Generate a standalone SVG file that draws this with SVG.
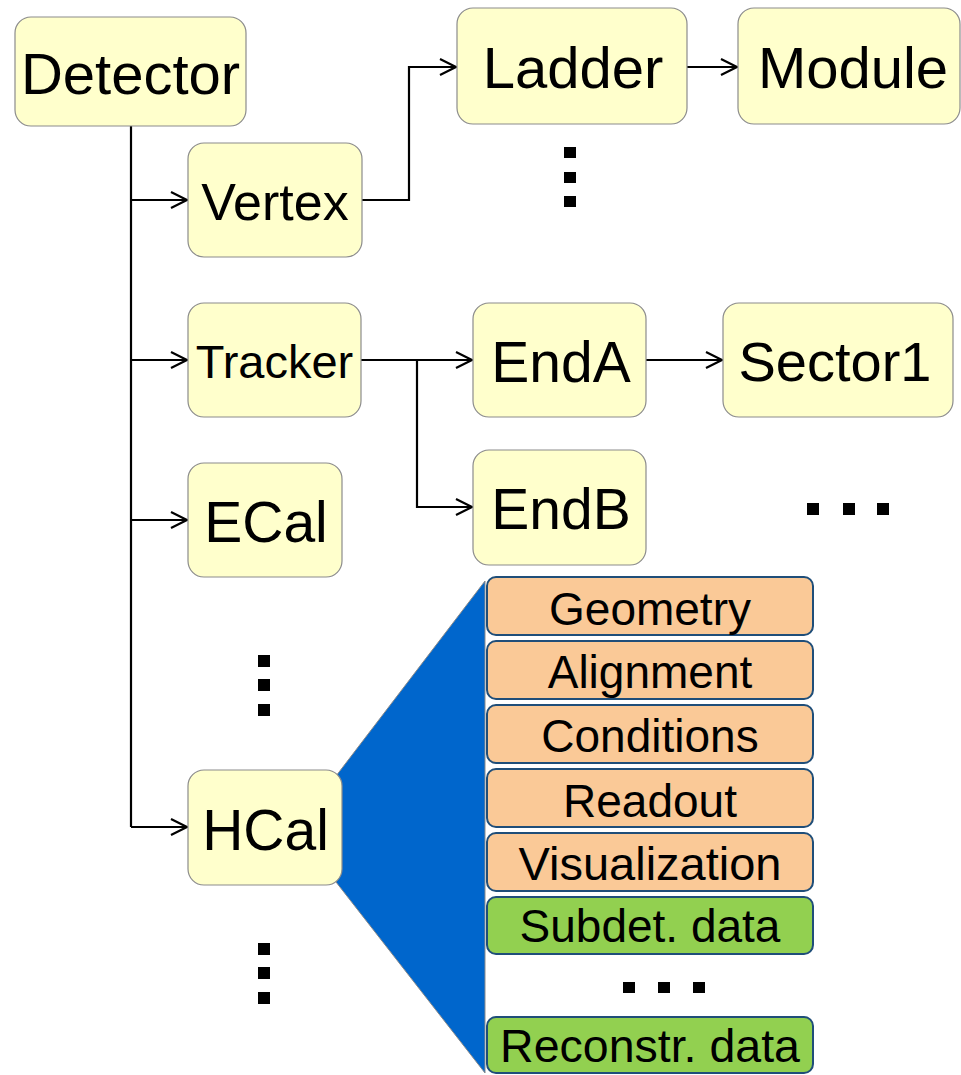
<svg xmlns="http://www.w3.org/2000/svg" width="961" height="1075" viewBox="0 0 961 1075">
<style>
text{font-family:"Liberation Sans",Arial,sans-serif;fill:#000;text-anchor:middle}
.n{fill:#FFFFCC;stroke:#8C8C8C;stroke-width:1.2}
.p{fill:#FAC997;stroke:#1F4E79;stroke-width:2}
.g{fill:#92D050;stroke:#1F4E79;stroke-width:2}
.c{fill:none;stroke:#000;stroke-width:2.2}
.d{fill:#000}
</style>
<defs>
<marker id="ah" markerWidth="20" markerHeight="20" refX="17" refY="9" orient="auto" markerUnits="userSpaceOnUse">
<path d="M1,1 L17,9 L1,17" fill="none" stroke="#000" stroke-width="2.2"/>
</marker>
</defs>
<polygon points="336,776 485,581 485,1073 336,882" fill="#0066CC" stroke="#8A8A8A" stroke-width="1"/>
<g id="connectors">
<path class="c" d="M131,126 V827"/>
<path class="c" d="M131,200 H187" marker-end="url(#ah)"/>
<path class="c" d="M131,360 H187" marker-end="url(#ah)"/>
<path class="c" d="M131,520 H187" marker-end="url(#ah)"/>
<path class="c" d="M131,827 H187" marker-end="url(#ah)"/>
<path class="c" d="M362,200 H409 V67 H456" marker-end="url(#ah)"/>
<path class="c" d="M687,67 H737" marker-end="url(#ah)"/>
<path class="c" d="M361,360 H472" marker-end="url(#ah)"/>
<path class="c" d="M417,360 V507 H472" marker-end="url(#ah)"/>
<path class="c" d="M646,360 H722" marker-end="url(#ah)"/>
</g>
<g id="detector"><rect class="n" x="15" y="17" width="231" height="109" rx="16"/><text x="130.5" y="94" font-size="58">Detector</text></g>
<g id="vertex"><rect class="n" x="188" y="143" width="174" height="114" rx="16"/><text x="275" y="220" font-size="52">Vertex</text></g>
<g id="ladder"><rect class="n" x="457" y="8" width="230" height="116" rx="16"/><text x="573" y="88" font-size="58">Ladder</text></g>
<g id="module"><rect class="n" x="738" y="8" width="222" height="116" rx="16"/><text x="853" y="88" font-size="58">Module</text></g>
<g id="tracker"><rect class="n" x="188" y="303" width="173" height="114" rx="16"/><text x="274.5" y="378" font-size="47">Tracker</text></g>
<g id="enda"><rect class="n" x="473" y="303" width="173" height="114" rx="16"/><text x="561" y="382" font-size="57">EndA</text></g>
<g id="sector1"><rect class="n" x="723" y="303" width="230" height="114" rx="16"/><text x="835" y="381" font-size="56">Sector1</text></g>
<g id="endb"><rect class="n" x="473" y="450" width="173" height="115" rx="16"/><text x="561" y="529" font-size="57">EndB</text></g>
<g id="ecal"><rect class="n" x="188" y="463" width="154" height="114" rx="16"/><text x="266" y="542" font-size="57">ECal</text></g>
<g id="hcal"><rect class="n" x="188" y="770" width="154" height="115" rx="16"/><text x="265.5" y="850" font-size="57">HCal</text></g>
<g id="dots">
<rect class="d" x="564" y="147" width="12" height="11"/><rect class="d" x="564" y="172" width="12" height="11"/><rect class="d" x="564" y="196" width="12" height="11"/>
<rect class="d" x="807" y="503" width="12" height="12"/><rect class="d" x="843" y="503" width="12" height="12"/><rect class="d" x="877" y="503" width="12" height="12"/>
<rect class="d" x="258" y="655" width="12" height="12"/><rect class="d" x="258" y="679" width="12" height="12"/><rect class="d" x="258" y="704" width="12" height="12"/>
<rect class="d" x="258" y="943" width="12" height="12"/><rect class="d" x="258" y="967" width="12" height="12"/><rect class="d" x="258" y="992" width="12" height="12"/>
<rect class="d" x="623" y="982" width="12" height="11"/><rect class="d" x="658" y="982" width="12" height="11"/><rect class="d" x="693" y="982" width="12" height="11"/>
</g>
<g id="geometry"><rect class="p" x="487" y="577" width="326" height="58" rx="9"/><text x="650" y="625" font-size="46">Geometry</text></g>
<g id="alignment"><rect class="p" x="487" y="641" width="326" height="58" rx="9"/><text x="650" y="688" font-size="46">Alignment</text></g>
<g id="conditions"><rect class="p" x="487" y="705" width="326" height="58" rx="9"/><text x="650" y="752" font-size="46">Conditions</text></g>
<g id="readout"><rect class="p" x="487" y="769" width="326" height="58" rx="9"/><text x="650" y="817" font-size="46">Readout</text></g>
<g id="visualization"><rect class="p" x="487" y="833" width="326" height="58" rx="9"/><text x="650" y="880" font-size="47">Visualization</text></g>
<g id="subdet"><rect class="g" x="487" y="897" width="326" height="57" rx="9"/><text x="650" y="942" font-size="46">Subdet. data</text></g>
<g id="reconstr"><rect class="g" x="487" y="1017" width="326" height="56" rx="9"/><text x="650" y="1062" font-size="46.5">Reconstr. data</text></g>
</svg>
